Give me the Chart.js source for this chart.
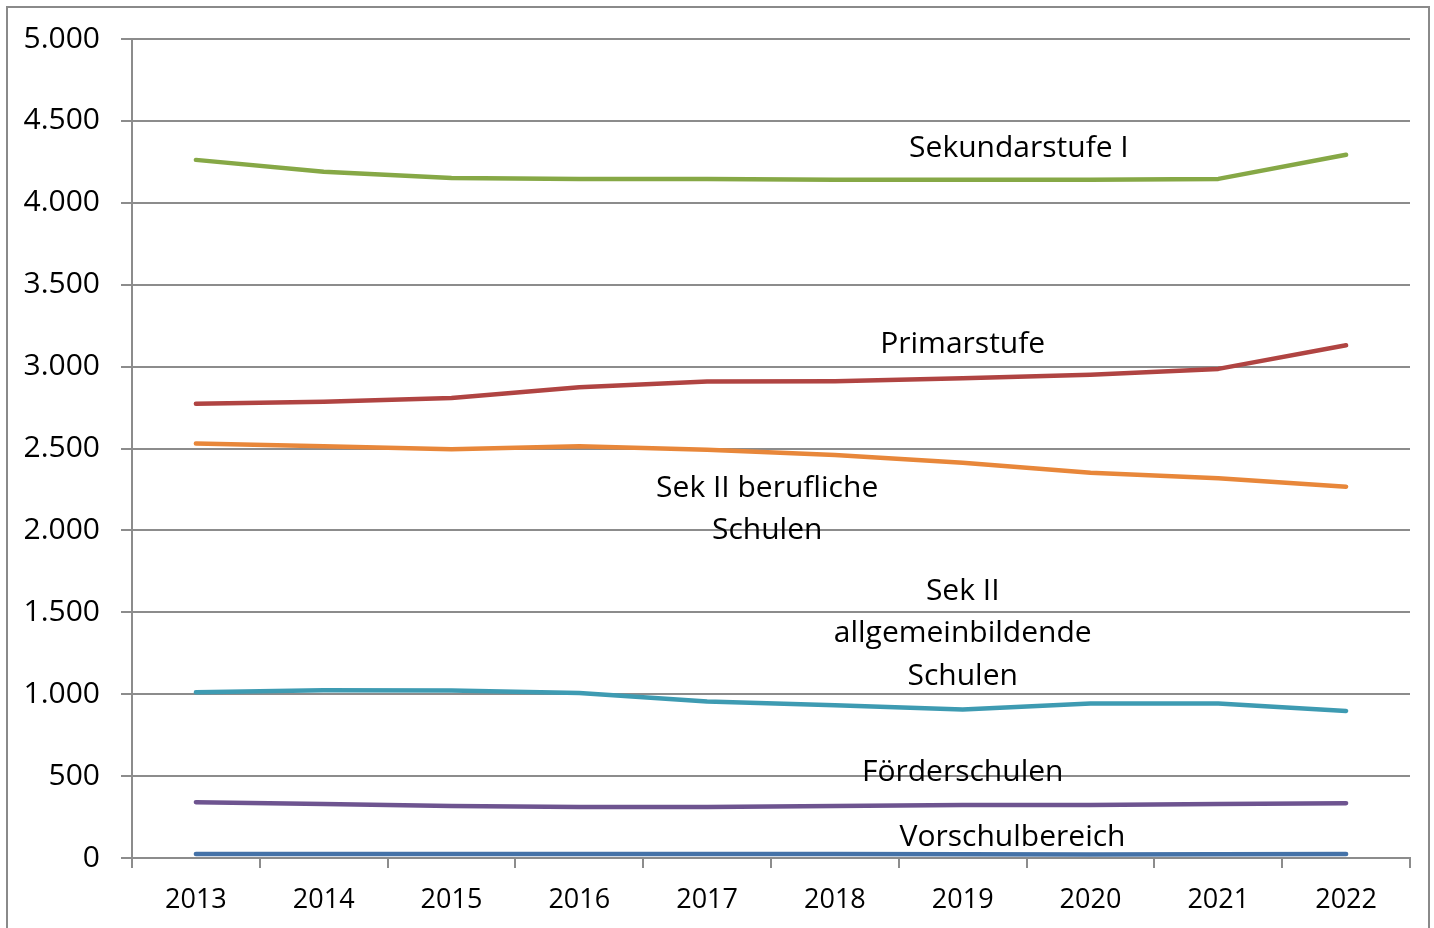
<!DOCTYPE html>
<html>
<head>
<meta charset="utf-8">
<script src="https://cdn.jsdelivr.net/npm/chart.js@4/dist/chart.umd.min.js"></script>
<style>
  html, body { margin: 0; padding: 0; background: #ffffff; }
  #wrap { position: relative; width: 1434px; height: 928px; }
  #frame { position: absolute; left: 6px; top: 6px; width: 1424px; height: 940px; border: 2px solid #8a8a8a; box-sizing: border-box; pointer-events: none; }
</style>
</head>
<body>
<div id="wrap">
  <canvas id="c" width="1434" height="928"></canvas>
  <div id="frame"></div>
</div>
<script>
const years = ['2013','2014','2015','2016','2017','2018','2019','2020','2021','2022'];
const yTicks = [0, 500, 1000, 1500, 2000, 2500, 3000, 3500, 4000, 4500, 5000];

const sekundarstufeI = [4262, 4189, 4152, 4146, 4146, 4140, 4140, 4140, 4146, 4293];
const primarstufe    = [2773, 2786, 2808, 2874, 2909, 2911, 2929, 2951, 2986, 3130];
const sekIIberuflich = [2530, 2514, 2496, 2514, 2492, 2460, 2413, 2352, 2318, 2267];
const sekIIallgemein = [1012, 1024, 1022, 1008, 955, 933, 907, 943, 943, 898];
const foerderschulen = [341, 329, 317, 311, 311, 317, 323, 323, 329, 335];
const vorschulbereich = [24, 24, 24, 24, 24, 24, 23, 21, 23, 24];

const seriesNames = ['Sekundarstufe I', 'Primarstufe', 'Sek II berufliche Schulen', 'Sek II allgemeinbildende Schulen', 'Förderschulen', 'Vorschulbereich'];

// Annotation labels: lines, anchor x (category index), anchor y (value of first line centre)
const labelLines = [
  ['Sekundarstufe I'],
  ['Primarstufe'],
  ['Sek II berufliche', 'Schulen'],
  ['Sek II', 'allgemeinbildende', 'Schulen'],
  ['Förderschulen'],
  ['Vorschulbereich']
];
const labelAtIndex = [6.44, 6.0, 4.47, 6.0, 6.0, 6.39];
const labelAtValue = [4329, 3134, 2259, 1628, 524, 125];

const colors = ['#86a846', '#b04442', '#e8873a', '#3e9bb2', '#6e5490', '#4472a8'];
const FONT = "'Open Sans', 'Liberation Sans', sans-serif";

function fmtDE(v) {
  return String(Math.round(v)).replace(/\B(?=(\d{3})+(?!\d))/g, '.');
}

const labelPlugin = {
  id: 'seriesLabels',
  afterDatasetsDraw(chart) {
    const ctx = chart.ctx;
    const xs = chart.scales.x, ys = chart.scales.y;
    const step = xs.getPixelForValue(1) - xs.getPixelForValue(0);
    ctx.save();
    ctx.fillStyle = '#000000';
    ctx.font = '30px ' + FONT;
    ctx.textAlign = 'center';
    ctx.textBaseline = 'middle';
    labelLines.forEach((lines, i) => {
      const x = xs.getPixelForValue(0) + labelAtIndex[i] * step;
      const y0 = ys.getPixelForValue(labelAtValue[i]);
      lines.forEach((t, k) => ctx.fillText(t, x, y0 + k * 42.5));
    });
    ctx.restore();
  }
};

const data = {
  labels: years,
  datasets: [sekundarstufeI, primarstufe, sekIIberuflich, sekIIallgemein, foerderschulen, vorschulbereich].map((arr, i) => ({
    label: seriesNames[i],
    data: arr,
    borderColor: colors[i],
    backgroundColor: colors[i],
    borderWidth: 4.5,
    pointRadius: 0,
    pointHoverRadius: 0,
    tension: 0,
    borderCapStyle: 'round',
    borderJoinStyle: 'round',
    fill: false
  }))
};

new Chart(document.getElementById('c'), {
  type: 'line',
  data,
  options: {
    responsive: false,
    animation: false,
    events: [],
    layout: { padding: { left: 0, top: 38, right: 24, bottom: 0 } },
    plugins: { legend: { display: false }, tooltip: { enabled: false } },
    scales: {
      x: {
        type: 'category',
        offset: true,
        grid: { display: true, offset: true, drawOnChartArea: false, drawTicks: true, tickLength: 10, color: '#8c8c8c', lineWidth: 2 },
        border: { display: true, color: '#8c8c8c', width: 2 },
        ticks: { color: '#000000', font: { family: FONT, size: 27 }, padding: 16, maxRotation: 0, autoSkip: false },
        afterFit(s) { s.height = 70; }
      },
      y: {
        min: 0, max: 5000,
        afterBuildTicks(s) { s.ticks = yTicks.map(v => ({ value: v })); },
        grid: { display: true, drawTicks: true, tickLength: 11, color: '#8c8c8c', lineWidth: 2 },
        border: { display: true, color: '#8c8c8c', width: 2 },
        ticks: { color: '#000000', font: { family: FONT, size: 30 }, padding: 21, callback: v => fmtDE(v) },
        afterFit(s) { s.width = 132; }
      }
    }
  },
  plugins: [labelPlugin]
});
</script>
</body>
</html>
